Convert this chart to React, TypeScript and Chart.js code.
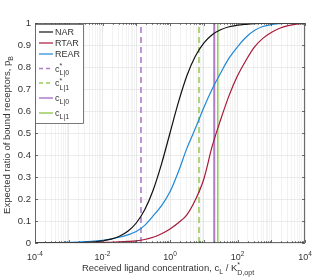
import React, { useEffect, useRef } from "react";
import { Chart, registerables } from "chart.js";

Chart.register(...registerables);

// ---- data ----
const conc = [
  1e-4, 1.78e-4, 3.16e-4, 5.62e-4, 1e-3, 1.78e-3, 3.16e-3, 5.62e-3,
  0.01, 0.0178, 0.0316, 0.0562, 0.1, 0.178, 0.316, 0.562,
  1, 1.78, 3.16, 5.62, 10, 17.8, 31.6, 56.2,
  100, 178, 316, 562, 1000, 1780, 3160, 5620, 10000,
];
const nar = [
  0.0001, 0.0002, 0.0003, 0.0006, 0.001, 0.0018, 0.0031, 0.0056,
  0.0099, 0.0175, 0.0307, 0.0532, 0.0909, 0.151, 0.24, 0.36,
  0.5, 0.64, 0.76, 0.849, 0.909, 0.947, 0.969, 0.983,
  0.99, 0.994, 0.997, 0.998, 0.999, 0.9994, 0.9997, 0.9998, 0.9999,
];
const rtar = [
  0.0001, 0.0001, 0.0002, 0.0003, 0.0005, 0.0008, 0.0012, 0.0017,
  0.0025, 0.0035, 0.005, 0.007, 0.01, 0.016, 0.026, 0.042,
  0.064, 0.092, 0.128, 0.195, 0.29, 0.44, 0.56, 0.67,
  0.76, 0.83, 0.89, 0.93, 0.957, 0.976, 0.988, 0.995, 0.998,
];
const rear = [
  0.0007, 0.001, 0.0015, 0.002, 0.003, 0.004, 0.006, 0.009,
  0.012, 0.018, 0.026, 0.037, 0.052, 0.08, 0.123, 0.17,
  0.233, 0.325, 0.43, 0.52, 0.615, 0.7, 0.773, 0.84,
  0.892, 0.935, 0.966, 0.984, 0.993, 0.997, 0.999, 1, 1,
];
const cStarL0 = 0.138;
const cStarL1 = 7.23;
const cL0 = 20.5;
const cL1 = 26;

const yTickValues = [0, 0.1, 0.2, 0.3, 0.4, 0.5, 0.6, 0.7, 0.8, 0.9, 1];
const xDecades = [-4, -3, -2, -1, 0, 1, 2, 3, 4];
const xLabelExps = ["-4", "-2", "0", "2", "4"];

// ---- styles ----
const FONT = "'Liberation Sans', Arial, Helvetica, sans-serif";
const TEXT = "#333333";
const C_NAR = "#111111";
const C_RTAR = "#A8183A";
const C_REAR = "#1E88D8";
const C_PURPLE = "#B07CC8";
const C_GREEN = "#9BCB5C";
const DASH = [6, 4];

const xTickVals: { value: number; major: boolean }[] = [];
xDecades.forEach((d, i) => {
  xTickVals.push({ value: Math.pow(10, d), major: true });
  if (i < xDecades.length - 1) {
    for (let m = 2; m <= 9; m++) xTickVals.push({ value: m * Math.pow(10, d), major: false });
  }
});

type Seg = { t: string; k: "n" | "sub" | "sup" | "supsub"; t2?: string };

function drawRich(ctx: CanvasRenderingContext2D, segs: Seg[], x: number, y: number, size: number, small: number, align: "left" | "center") {
  const f = (s: number) => `${s}px ${FONT}`;
  const widths = segs.map((s) => {
    if (s.k === "n") { ctx.font = f(size); return ctx.measureText(s.t).width; }
    ctx.font = f(small);
    const a = ctx.measureText(s.t).width;
    const b = s.t2 ? ctx.measureText(s.t2).width : 0;
    return Math.max(a, b);
  });
  const total = widths.reduce((a, b) => a + b, 0);
  let cx = align === "center" ? x - total / 2 : x;
  ctx.textAlign = "left";
  ctx.textBaseline = "alphabetic";
  segs.forEach((s, i) => {
    if (s.k === "n") {
      ctx.font = f(size);
      ctx.fillText(s.t, cx, y);
    } else if (s.k === "sub") {
      ctx.font = f(small);
      ctx.fillText(s.t, cx, y + size * 0.32);
    } else if (s.k === "sup") {
      ctx.font = f(small);
      ctx.fillText(s.t, cx, y - size * 0.42);
    } else {
      ctx.font = f(small);
      ctx.fillText(s.t, cx, y - size * 0.42);
      if (s.t2) ctx.fillText(s.t2, cx, y + size * 0.38);
    }
    cx += widths[i];
  });
}

const legendItems: { color: string; dash: number[]; w: number; label: Seg[] }[] = [
  { color: C_NAR, dash: [], w: 1.2, label: [{ t: "NAR", k: "n" }] },
  { color: C_RTAR, dash: [], w: 1.2, label: [{ t: "RTAR", k: "n" }] },
  { color: C_REAR, dash: [], w: 1.2, label: [{ t: "REAR", k: "n" }] },
  { color: C_PURPLE, dash: [4, 3], w: 1.5, label: [{ t: "c", k: "n" }, { t: "*", k: "supsub", t2: "L|0" }] },
  { color: C_GREEN, dash: [4, 3], w: 1.5, label: [{ t: "c", k: "n" }, { t: "*", k: "supsub", t2: "L|1" }] },
  { color: C_PURPLE, dash: [], w: 1.5, label: [{ t: "c", k: "n" }, { t: "L|0", k: "sub" }] },
  { color: C_GREEN, dash: [], w: 1.5, label: [{ t: "c", k: "n" }, { t: "L|1", k: "sub" }] },
];
const legendRowsY = [32, 43, 54, 68.5, 83, 98, 113];

const decorPlugin = {
  id: "decor",
  afterDatasetsDraw(chart: any) {
    const ctx: CanvasRenderingContext2D = chart.ctx;
    const { left, right, top, bottom } = chart.chartArea;
    const xs = chart.scales.x;
    const ys = chart.scales.y;
    ctx.save();
    // box
    ctx.strokeStyle = "#4a4a4a";
    ctx.lineWidth = 0.8;
    ctx.setLineDash([]);
    ctx.strokeRect(left + 0.5, top + 0.5, right - left - 1, bottom - top - 1);
    // inward ticks
    ctx.beginPath();
    yTickValues.forEach((v) => {
      const py = Math.round(ys.getPixelForValue(v)) + 0.5;
      ctx.moveTo(left, py); ctx.lineTo(left + 3, py);
      ctx.moveTo(right, py); ctx.lineTo(right - 3, py);
    });
    xTickVals.forEach((t) => {
      const px = Math.round(xs.getPixelForValue(t.value)) + 0.5;
      const len = t.major ? 3 : 1.8;
      ctx.moveTo(px, bottom); ctx.lineTo(px, bottom - len);
      ctx.moveTo(px, top); ctx.lineTo(px, top + len);
    });
    ctx.stroke();

    // x tick labels
    ctx.fillStyle = TEXT;
    xLabelExps.forEach((e) => {
      const px = xs.getPixelForValue(Math.pow(10, Number(e)));
      drawRich(ctx, [{ t: "10", k: "n" }, { t: e, k: "sup" }], px, bottom + 17, 9, 6.5, "center");
    });

    // x title
    drawRich(
      ctx,
      [
        { t: "Received ligand concentration, c", k: "n" },
        { t: "L", k: "sub" },
        { t: " / K", k: "n" },
        { t: "*", k: "supsub", t2: "D,opt" },
      ],
      (left + right) / 2 - 2, 271, 9.5, 7, "center"
    );

    // y title
    ctx.save();
    ctx.translate(10, 135);
    ctx.rotate(-Math.PI / 2);
    drawRich(ctx, [{ t: "Expected ratio of bound receptors, p", k: "n" }, { t: "B", k: "sub" }], 0, 0, 9.5, 7, "center");
    ctx.restore();

    // legend
    const lx0 = 35.5, lx1 = 83.5, ly0 = 24.5, ly1 = 123.5;
    ctx.fillStyle = "#ffffff";
    ctx.fillRect(lx0, ly0, lx1 - lx0, ly1 - ly0);
    ctx.strokeStyle = "#5a5a5a";
    ctx.lineWidth = 0.8;
    ctx.strokeRect(lx0, ly0, lx1 - lx0, ly1 - ly0);
    legendItems.forEach((it, i) => {
      const y = legendRowsY[i];
      ctx.beginPath();
      ctx.strokeStyle = it.color;
      ctx.lineWidth = it.w;
      ctx.setLineDash(it.dash);
      ctx.moveTo(39, y);
      ctx.lineTo(53, y);
      ctx.stroke();
      ctx.setLineDash([]);
      ctx.fillStyle = TEXT;
      drawRich(ctx, it.label, 55, y + 3.3, 9, 7, "left");
    });
    ctx.restore();
  },
};

export default function App() {
  const ref = useRef<HTMLCanvasElement | null>(null);
  useEffect(() => {
    document.body.style.margin = "0";
    const canvas = ref.current!;
    const curve = (arr: number[]) => conc.map((c, i) => ({ x: c, y: arr[i] }));
    const vline = (v: number) => [{ x: v, y: 0 }, { x: v, y: 1 }];
    const chart = new Chart(canvas, {
      type: "line",
      data: {
        datasets: [
          { label: "NAR", data: curve(nar), borderColor: C_NAR, borderWidth: 1.2, cubicInterpolationMode: "monotone" },
          { label: "RTAR", data: curve(rtar), borderColor: C_RTAR, borderWidth: 1.2, cubicInterpolationMode: "monotone" },
          { label: "REAR", data: curve(rear), borderColor: C_REAR, borderWidth: 1.2, cubicInterpolationMode: "monotone" },
          { label: "c*L|0", data: vline(cStarL0), borderColor: C_PURPLE, borderWidth: 1.6, borderDash: DASH },
          { label: "c*L|1", data: vline(cStarL1), borderColor: C_GREEN, borderWidth: 1.6, borderDash: DASH },
          { label: "cL|0", data: vline(cL0), borderColor: C_PURPLE, borderWidth: 2 },
          { label: "cL|1", data: vline(cL1), borderColor: C_GREEN, borderWidth: 1.6 },
        ] as any,
      },
      options: {
        animation: false,
        responsive: false,
        maintainAspectRatio: false,
        parsing: false as any,
        layout: { padding: { left: 0, right: 11, top: 23, bottom: 0 } },
        elements: { point: { radius: 0 }, line: { fill: false } },
        plugins: { legend: { display: false }, tooltip: { enabled: false } },
        scales: {
          x: {
            type: "logarithmic",
            min: 1e-4,
            max: 1e4,
            afterBuildTicks: (s: any) => {
              s.ticks = xTickVals.map((t) => ({ value: t.value, major: t.major }));
            },
            afterFit: (s: any) => { s.height = 37; },
            ticks: { display: false },
            grid: {
              drawTicks: false,
              color: (c: any) => (c.tick && c.tick.major ? "#e2e2e2" : "#f0f0f0"),
              lineWidth: 0.8,
            },
            border: { display: false },
          },
          y: {
            type: "linear",
            min: 0,
            max: 1,
            afterBuildTicks: (s: any) => {
              s.ticks = yTickValues.map((v) => ({ value: v }));
            },
            afterFit: (s: any) => { s.width = 35; },
            ticks: {
              padding: 4,
              color: TEXT,
              font: { family: FONT, size: 9.5 },
              callback: (v: any) => String(Math.round(Number(v) * 10) / 10),
            },
            grid: { drawTicks: false, color: "#e6e6e6", lineWidth: 0.8 },
            border: { display: false },
          },
        },
      },
      plugins: [decorPlugin],
    });
    return () => chart.destroy();
  }, []);
  return (
    <div style={{ position: "absolute", left: 0, top: 0, width: 316, height: 280 }}>
      <canvas ref={ref} width={316} height={280} style={{ width: 316, height: 280 }} />
    </div>
  );
}
